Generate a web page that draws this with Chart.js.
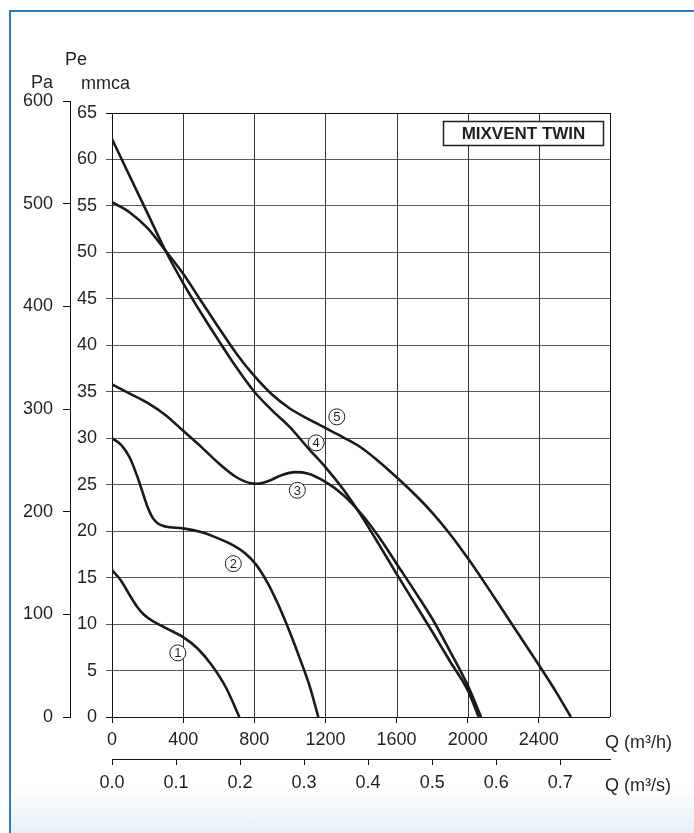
<!DOCTYPE html>
<html lang="es">
<head>
<meta charset="UTF-8">
<title>MIXVENT TWIN</title>
<style>
  html, body { margin: 0; padding: 0; background: #fff; }
  #frame {
    position: absolute; left: 9px; top: 10px; width: 700px; height: 840px;
    border-left: 2.5px solid #2b7cc4; border-top: 2.5px solid #2b7cc4;
    background: linear-gradient(to bottom, #fff 0px, #fff 775px, #e4eef8 823px);
  }
  #chart { position: absolute; left: 0; top: 0; }
</style>
</head>
<body>
<div id="frame"></div>
<canvas id="chart" width="694" height="833"></canvas>

<script src="https://cdn.jsdelivr.net/npm/chart.js"></script>
<script>
// caudal Q (m3/h) y presion Pe (mmca) de cada curva
const flow1 = [0, 50, 100, 140, 180, 240, 320, 400, 480, 560, 640, 716];
const press1 = [15.8, 14.7, 13.1, 11.9, 11.0, 10.2, 9.4, 8.6, 7.4, 5.6, 3.2, 0];

const flow2 = [0, 50, 100, 140, 170, 200, 230, 260, 300, 400, 500, 600, 680, 750, 810, 870, 930, 990, 1050, 1110, 1160];
const press2 = [30, 29.3, 27.9, 26.0, 24.3, 22.6, 21.4, 20.8, 20.5, 20.3, 19.9, 19.2, 18.5, 17.6, 16.4, 14.6, 12.3, 9.6, 6.6, 3.4, 0];

const flow3 = [0, 100, 200, 300, 400, 500, 600, 700, 780, 820, 880, 950, 1030, 1100, 1200, 1300, 1400, 1500, 1600, 1700, 1800, 1900, 2000, 2075];
const press3 = [35.8, 34.8, 33.8, 32.5, 30.8, 29.1, 27.3, 25.8, 25.15, 25.1, 25.4, 26.0, 26.35, 26.2, 25.3, 23.9, 21.9, 19.4, 16.5, 13.6, 10.6, 7.1, 3.4, 0];

const flow4 = [0, 100, 200, 300, 400, 500, 600, 700, 800, 900, 1000, 1100, 1200, 1300, 1400, 1500, 1600, 1700, 1800, 1900, 2000, 2062];
const press4 = [62.2, 58.2, 54.2, 50.2, 46.7, 43.5, 40.5, 37.6, 35.0, 33.0, 31.2, 29.0, 26.9, 24.5, 21.7, 18.6, 15.4, 12.3, 9.2, 6.0, 2.9, 0];

const flow5 = [0, 100, 200, 300, 400, 500, 600, 700, 800, 900, 1000, 1100, 1200, 1300, 1400, 1500, 1600, 1700, 1800, 1900, 2000, 2100, 2200, 2300, 2400, 2500, 2580];
const press5 = [55.4, 54.3, 52.6, 50.2, 47.7, 44.8, 41.9, 39.1, 36.7, 34.7, 33.2, 32.1, 31.1, 30.1, 29.0, 27.5, 25.8, 24.0, 22.0, 19.7, 17.1, 14.3, 11.4, 8.5, 5.6, 2.6, 0];

// ejes
const flowTicks = [0, 400, 800, 1200, 1600, 2000, 2400, 2800];
const flowSecTicks = [0, 0.1, 0.2, 0.3, 0.4, 0.5, 0.6, 0.7];
const mmcaTicks = [0, 5, 10, 15, 20, 25, 30, 35, 40, 45, 50, 55, 60, 65];
const paTicks = [0, 100, 200, 300, 400, 500, 600];

// etiquetas de curva
const curveNames = ['1', '2', '3', '4', '5'];
const labelFlow = [370, 682, 1042, 1148, 1264];
const labelPress = [6.9, 16.5, 24.4, 29.5, 32.3];

const FONT = "'Liberation Sans', Arial, sans-serif";
const INK = '#231f20';

function pts(fx, py) {
    return fx.map((q, i) => ({ x: q, y: py[i] }));
}

const curves = [pts(flow1, press1), pts(flow2, press2), pts(flow3, press3), pts(flow4, press4), pts(flow5, press5)];

const decor = {
    id: 'decor',
    beforeDatasetsDraw(chart) {
        const ctx = chart.ctx;
        const x = chart.scales.x, y = chart.scales.y;
        const top = y.getPixelForValue(65), bot = y.getPixelForValue(0);
        ctx.save();
        ctx.lineWidth = 1;
        flowTicks.forEach(q => {
            const px = Math.round(x.getPixelForValue(q)) + 0.5;
            ctx.strokeStyle = (q === 0 || q === 2800) ? '#111' : '#333';
            ctx.beginPath();
            ctx.moveTo(px, top);
            ctx.lineTo(px, bot);
            ctx.stroke();
        });
        ctx.restore();
    },
    afterDraw(chart) {
        const ctx = chart.ctx;
        const x = chart.scales.x, y = chart.scales.y;
        ctx.save();
        ctx.fillStyle = INK;
        ctx.textBaseline = 'alphabetic';
        ctx.textAlign = 'left';
        ctx.font = '18px ' + FONT;
        ctx.fillText('Pe', 65, 65);
        ctx.fillText('Pa', 31, 88);
        ctx.fillText('mmca', 81, 89);
        ctx.fillText('Q (m³/h)', 605, 748);
        ctx.fillText('Q (m³/s)', 605, 791);

        // recuadro del modelo
        ctx.fillStyle = '#fff';
        ctx.fillRect(443.5, 121.5, 160, 24);
        ctx.strokeStyle = INK;
        ctx.lineWidth = 1.5;
        ctx.strokeRect(443.5, 121.5, 160, 24);
        ctx.fillStyle = INK;
        ctx.font = 'bold 17px ' + FONT;
        ctx.textAlign = 'center';
        ctx.textBaseline = 'middle';
        ctx.fillText('MIXVENT TWIN', 523.5, 134.5);

        // numeros de curva en circulo
        ctx.font = '13px ' + FONT;
        ctx.lineWidth = 1;
        curveNames.forEach((n, i) => {
            const cx = x.getPixelForValue(labelFlow[i]);
            const cy = y.getPixelForValue(labelPress[i]);
            ctx.beginPath();
            ctx.arc(cx, cy, 8, 0, Math.PI * 2);
            ctx.fillStyle = '#fff';
            ctx.fill();
            ctx.stroke();
            ctx.fillStyle = INK;
            ctx.fillText(n, cx, cy + 1);
        });
        ctx.restore();
    }
};

new Chart(document.getElementById('chart'), {
    type: 'line',
    data: {
        datasets: curves.map(c => ({
            data: c,
            borderColor: '#1a1a1a',
            borderWidth: 2.6,
            pointRadius: 0,
            fill: false,
            cubicInterpolationMode: 'monotone',
            xAxisID: 'x',
            yAxisID: 'y'
        }))
    },
    options: {
        responsive: false,
        animation: false,
        events: [],
        layout: { padding: { left: 0, top: 101, right: 84, bottom: 0 } },
        plugins: { legend: { display: false }, tooltip: { enabled: false } },
        scales: {
            x: {
                type: 'linear',
                position: 'bottom',
                weight: 0,
                min: 0,
                max: 2800,
                afterBuildTicks: axis => { axis.ticks = flowTicks.map(v => ({ value: v })); },
                afterFit: axis => { axis.height = 42; },
                grid: {
                    drawOnChartArea: false,
                    drawTicks: true,
                    tickLength: 6,
                    color: c => (c.tick && c.tick.value === 2800) ? 'rgba(0,0,0,0)' : '#111'
                },
                border: { display: false },
                ticks: {
                    autoSkip: false,
                    maxRotation: 0,
                    padding: 6,
                    color: INK,
                    font: { family: FONT, size: 18 },
                    callback: v => v === 2800 ? '' : v
                }
            },
            x2: {
                type: 'linear',
                position: 'bottom',
                weight: 1,
                min: 0,
                max: 2800 / 3600,
                afterBuildTicks: axis => { axis.ticks = flowSecTicks.map(v => ({ value: v })); },
                afterFit: axis => { axis.height = 74; },
                grid: { drawOnChartArea: false, drawTicks: true, tickLength: 6, color: '#111' },
                border: { display: true, color: '#111', width: 1 },
                ticks: {
                    autoSkip: false,
                    maxRotation: 0,
                    padding: 7,
                    color: INK,
                    font: { family: FONT, size: 18 },
                    callback: v => v.toFixed(1)
                }
            },
            y: {
                type: 'linear',
                position: 'left',
                weight: 0,
                min: 0,
                max: 65 * 616 / 604,
                afterBuildTicks: axis => { axis.ticks = mmcaTicks.map(v => ({ value: v })); },
                afterFit: axis => { axis.width = 42; },
                grid: {
                    tickLength: 6,
                    lineWidth: 1,
                    color: c => (c.tick && (c.tick.value === 0 || c.tick.value === 65)) ? '#111' : '#5a5a5a'
                },
                border: { display: false },
                ticks: {
                    autoSkip: false,
                    padding: 9,
                    color: INK,
                    font: { family: FONT, size: 18 }
                }
            },
            pa: {
                type: 'linear',
                position: 'left',
                weight: 1,
                min: 0,
                max: 600,
                afterBuildTicks: axis => { axis.ticks = paTicks.map(v => ({ value: v })); },
                afterFit: axis => { axis.width = 70; },
                grid: { drawOnChartArea: false, tickLength: 7, color: '#111' },
                border: { display: true, color: '#111', width: 1 },
                ticks: {
                    autoSkip: false,
                    padding: 10,
                    color: INK,
                    font: { family: FONT, size: 18 }
                }
            }
        }
    },
    plugins: [decor]
});
</script>
</body>
</html>
